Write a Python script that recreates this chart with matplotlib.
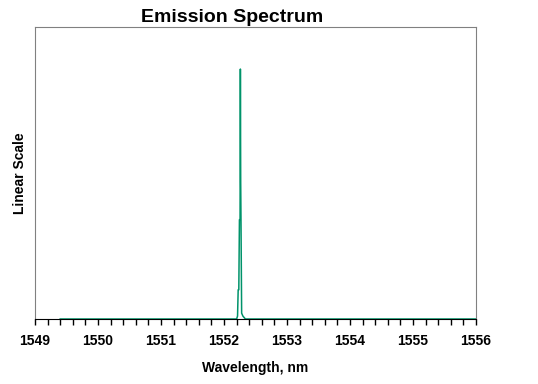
import numpy as np
import matplotlib
matplotlib.use("Agg")
import matplotlib.pyplot as plt
from matplotlib.ticker import MultipleLocator

# Spectrum data (wavelength in nm, linear intensity)
wavelength = [1549.4, 1552.20, 1552.215, 1552.225, 1552.235, 1552.245, 1552.255,
              1552.26, 1552.265, 1552.27, 1552.28, 1552.30, 1552.32, 1552.34, 1556.0]
intensity = [0.0, 0.0, 0.01, 0.10, 0.10, 0.34, 0.34,
             0.856, 0.47, 0.33, 0.02, 0.01, 0.005, 0.0, 0.0]

xticks = [1549, 1550, 1551, 1552, 1553, 1554, 1555, 1556]

plt.rcParams['font.family'] = ['Liberation Sans', 'DejaVu Sans']

fig = plt.figure(figsize=(5.38, 3.84), dpi=100)
ax = fig.add_axes([35/538, 1 - 319/384, 441/538, 292/384])

ax.plot(wavelength, intensity, color='#00936a', lw=1.1)

ax.set_xlim(1549, 1556)
ax.set_ylim(0, 1.0)
ax.set_xticks(xticks)
ax.set_xticklabels([str(t) for t in xticks], fontweight='bold', fontsize=10)
ax.xaxis.set_minor_locator(MultipleLocator(0.2))
ax.tick_params(axis='x', which='both', direction='out', length=4, width=1, color='black', pad=7)
ax.set_yticks([])

for side in ['left', 'top', 'right']:
    ax.spines[side].set_color('#808080')
ax.spines['bottom'].set_color('black')

ax.set_xlabel('Wavelength, nm', fontweight='bold', fontsize=10, labelpad=9)
ax.set_ylabel('Linear Scale', fontweight='bold', fontsize=10, labelpad=6)
fig.text(232/538, 1 - 18/384, 'Emission Spectrum', ha='center', va='center',
         fontweight='bold', fontsize=14)

fig.savefig('out.png', dpi=100)
